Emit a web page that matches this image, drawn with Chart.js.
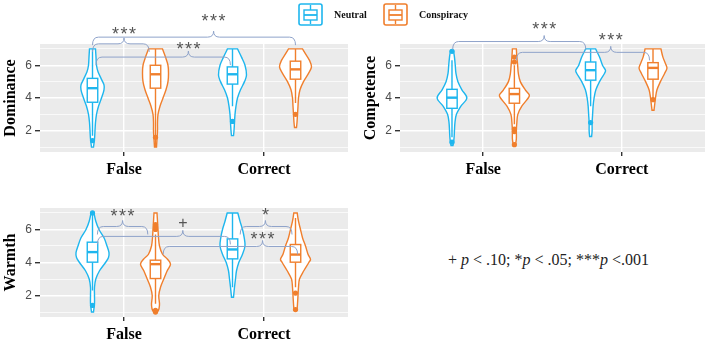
<!DOCTYPE html>
<html>
<head>
<meta charset="utf-8">
<script src="https://cdn.jsdelivr.net/npm/chart.js@4.4.0/dist/chart.umd.min.js"></script>
<style>
  body { margin: 0; background: #fff; }
  #wrap { position: relative; width: 709px; height: 345px; overflow: hidden; background: #fff; }
  canvas { position: absolute; }
  .key { position: absolute; top: 3px; height: 23px; display: flex; align-items: center; font: bold 10px 'Liberation Serif', serif; color: #111; }
  .key svg { margin-right: 11px; }
  #note { position: absolute; left: 448px; top: 251px; font: 16px 'Liberation Serif', serif; color: #222; white-space: nowrap; }
</style>
</head>
<body>
<div id="wrap">
  <canvas id="dominance" width="360" height="182" style="left:0;top:0"></canvas>
  <canvas id="competence" width="349" height="182" style="left:360px;top:0"></canvas>
  <canvas id="warmth" width="360" height="181" style="left:0;top:164px"></canvas>
  <div class="key" style="left:298px">
    <svg width="25" height="23"><rect x="1" y="1" width="23" height="21" rx="2" fill="#fff" stroke="#1eb6ee" stroke-width="1.6"/><line x1="12.5" y1="2" x2="12.5" y2="21" stroke="#1eb6ee" stroke-width="1.4"/><rect x="6" y="7" width="13" height="10" fill="#fff" stroke="#1eb6ee" stroke-width="1.4"/><line x1="6" y1="12" x2="19" y2="12" stroke="#1eb6ee" stroke-width="1.8"/></svg>
    <span>Neutral</span>
  </div>
  <div class="key" style="left:383px">
    <svg width="25" height="23"><rect x="1" y="1" width="23" height="21" rx="2" fill="#fff" stroke="#f07f2d" stroke-width="1.6"/><line x1="12.5" y1="2" x2="12.5" y2="21" stroke="#f07f2d" stroke-width="1.4"/><rect x="6" y="7" width="13" height="10" fill="#fff" stroke="#f07f2d" stroke-width="1.4"/><line x1="6" y1="12" x2="19" y2="12" stroke="#f07f2d" stroke-width="1.8"/></svg>
    <span>Conspiracy</span>
  </div>
  <div id="note">+ <i>p</i> &lt; .10; *<i>p</i> &lt; .05; ***<i>p</i> &lt;.001</div>
</div>
<script>
// categories / conditions
const groups = ['False', 'Correct'];
const conditions = ['Neutral', 'Conspiracy'];
const colors = ['#1eb6ee', '#f07f2d'];
// dodged positions: Neutral False, Conspiracy False, Neutral Correct, Conspiracy Correct
const groupPositions = [0.775, 1.225, 1.775, 2.225];

// violin outlines: [rating, half width]
const dominanceViolins = [
    [[1.0,1],[1.5,2],[2,2.5],[2.5,3],[3,4],[3.5,6],[4,9],[4.5,11.5],[4.8,11.5],[5.2,8.5],[5.6,5.5],[6,4],[6.5,3.5],[7,3]],
    [[1.0,1],[1.5,1.5],[2,2],[2.5,2],[3,2.5],[3.5,4.5],[4,7.5],[4.5,10.5],[5,12.5],[5.5,13],[6,12.5],[6.5,10],[7,7]],
    [[1.7,1],[2,1.5],[2.5,2],[3,2.5],[3.5,3.5],[4,5],[4.5,8],[5,12],[5.4,14],[6,12.5],[6.5,9],[7,5]],
    [[2.2,1],[2.5,1.5],[3,2],[3.5,2.5],[4,3],[4.5,4.5],[5,8],[5.5,13],[5.9,16],[6.3,14],[6.7,10],[7,7]]
];
// boxes: [lower whisker, q1, median, q3, upper whisker]
const dominanceBoxes = [[1.7,3.74,4.6,5.2,7.0],[1.0,4.6,5.45,6.0,7.0],[3.5,4.85,5.45,5.9,7.0],[3.7,5.15,5.75,6.25,7.0]];
const dominanceOutliers = [[1.4],[1.6],[2.57],[3.0]];
// significance braces: ends, peak and label height on the axis scales
const dominanceBrackets = [
    { x1: 0.775, x2: 2.225, xm: 1.64, y: 7.72, labelY: 8.93, label: '***' },
    { x1: 0.775, x2: 1.18, xm: 1.0, y: 7.31, labelY: 8.16, label: '***' },
    { x1: 0.80, x2: 1.76, xm: 1.46, y: 6.5, labelY: 7.21, label: '***' }
];

const competenceViolins = [
    [[1.1,1],[1.5,2],[2,2.5],[2.5,3],[3,4.5],[3.5,9],[4,15],[4.5,10],[5,6],[5.5,4],[6,3.3],[6.5,2.5],[6.9,1.5]],
    [[1.1,1],[1.5,2],[2,2],[2.5,2.5],[3,3.5],[3.5,7.5],[4,14],[4.2,15],[4.5,11],[5,6],[5.5,4],[6,3.3],[6.5,2.5],[7,2]],
    [[1.65,1],[2,1.5],[2.5,1.5],[3,2],[3.5,2.5],[4,3.5],[4.5,5.3],[5,9],[5.5,14],[5.7,15],[6,12],[6.5,9],[7,5]],
    [[3.25,1],[3.5,1.5],[4,2.5],[4.5,4],[5,7.5],[5.5,11.7],[5.8,14],[6,13.3],[6.5,10],[7,8]]
];
const competenceBoxes = [[1.6,3.37,4.02,4.53,6.3],[2.4,3.68,4.24,4.59,6.0],[3.5,5.09,5.7,6.2,7.0],[3.9,5.15,5.84,6.16,7.0]];
const competenceOutliers = [[6.85,1.3],[6.5,6.2,2.1,1.95,1.15],[2.5],[3.9]];
const competenceBrackets = [
    { x1: 0.78, x2: 1.74, xm: 1.44, y: 7.45, labelY: 8.48, label: '***' },
    { x1: 1.24, x2: 2.2, xm: 1.92, y: 6.79, labelY: 7.76, label: '***' }
];

const warmthViolins = [
    [[1.0,1],[1.5,2],[2,2],[2.5,2],[3,3.3],[3.5,7],[4,13],[4.3,16],[4.6,16.5],[5,14.5],[5.5,11.5],[6,6.5],[6.5,3.3],[7,1.5]],
    [[1.0,2],[1.2,3.5],[1.5,4],[2,3.3],[2.5,5],[3,8.3],[3.5,11.7],[3.9,15],[4.2,12],[4.5,7],[5,4],[5.5,3],[6,2.5],[6.5,2],[7,1.5]],
    [[1.9,1],[2.5,2],[3,3],[3.5,4],[4,6.3],[4.5,10],[5,12.5],[5.5,11.7],[6,10],[6.5,7.5],[7,5.3]],
    [[1.1,1.5],[1.5,2],[2,2.5],[2.5,3],[3,4],[3.5,8.3],[4,13.3],[4.2,15],[4.5,12.5],[5,10],[5.5,7],[6,5],[6.5,3],[7,1.7]]
];
const warmthBoxes = [[2.3,4.02,4.63,5.23,6.9],[1.5,3.03,3.9,4.14,5.7],[2.5,4.22,4.79,5.43,7.0],[2.5,4.02,4.48,5.09,6.7]];
const warmthOutliers = [[7.0,1.4],[6.3,6.15,6.0,1.1,1.0],[],[2.15,1.15]];
const warmthBrackets = [
    { x1: 0.81, x2: 1.17, xm: 0.99, y: 6.18, labelY: 7.03, label: '***' },
    { x1: 0.81, x2: 1.76, xm: 1.42, y: 5.58, labelY: 6.42, label: '+' },
    { x1: 1.83, x2: 2.2, xm: 2.01, y: 6.18, labelY: 7.09, label: '*' },
    { x1: 1.28, x2: 2.24, xm: 1.99, y: 4.97, labelY: 5.64, label: '***' }
];

const violinScale = 1 / 140;   // half widths were read in pixels at 140 px per category
const boxHalf = 0.0375;

function smoothThrough(ctx, pts) {
    for (let i = 0; i < pts.length - 1; i++) {
        const p0 = pts[Math.max(i - 1, 0)], p1 = pts[i], p2 = pts[i + 1], p3 = pts[Math.min(i + 2, pts.length - 1)];
        ctx.bezierCurveTo(p1.x + (p2.x - p0.x) / 6, p1.y + (p2.y - p0.y) / 6,
                          p2.x - (p3.x - p1.x) / 6, p2.y - (p3.y - p1.y) / 6, p2.x, p2.y);
    }
}

function disegnaViolino(ctx, xs, ys, pos, outline, color) {
    const right = outline.map(p => ({ x: xs.getPixelForValue(pos + p[1] * violinScale), y: ys.getPixelForValue(p[0]) }));
    const left = outline.map(p => ({ x: xs.getPixelForValue(pos - p[1] * violinScale), y: ys.getPixelForValue(p[0]) })).reverse();
    ctx.beginPath();
    ctx.moveTo(right[0].x, right[0].y);
    smoothThrough(ctx, right);
    ctx.lineTo(left[0].x, left[0].y);
    smoothThrough(ctx, left);
    ctx.closePath();
    ctx.fillStyle = '#fff';
    ctx.fill();
    ctx.strokeStyle = color;
    ctx.lineWidth = 1.4;
    ctx.stroke();
}

function disegnaBox(ctx, xs, ys, pos, b, color) {
    const xc = xs.getPixelForValue(pos);
    const xl = xs.getPixelForValue(pos - boxHalf), xr = xs.getPixelForValue(pos + boxHalf);
    const [lo, q1, med, q3, hi] = b.map(v => ys.getPixelForValue(v));
    ctx.strokeStyle = color;
    ctx.lineWidth = 1.4;
    ctx.beginPath();
    ctx.moveTo(xc, lo); ctx.lineTo(xc, q1);
    ctx.moveTo(xc, q3); ctx.lineTo(xc, hi);
    ctx.stroke();
    ctx.fillStyle = '#fff';
    ctx.fillRect(xl, q3, xr - xl, q1 - q3);
    ctx.strokeRect(xl, q3, xr - xl, q1 - q3);
    ctx.lineWidth = 2.4;
    ctx.beginPath();
    ctx.moveTo(xl, med); ctx.lineTo(xr, med);
    ctx.stroke();
}

function disegnaParentesi(ctx, xs, ys, b) {
    const x1 = xs.getPixelForValue(b.x1), x2 = xs.getPixelForValue(b.x2), xm = xs.getPixelForValue(b.xm);
    const y = ys.getPixelForValue(b.y);
    const r = 6, drop = 8, rise = 6;
    ctx.strokeStyle = '#8fa3ca';
    ctx.lineWidth = 1;
    ctx.beginPath();
    ctx.moveTo(x1, y + drop);
    ctx.quadraticCurveTo(x1, y, x1 + r, y);
    ctx.lineTo(xm - r, y);
    ctx.quadraticCurveTo(xm, y, xm, y - rise);
    ctx.quadraticCurveTo(xm, y, xm + r, y);
    ctx.lineTo(x2 - r, y);
    ctx.quadraticCurveTo(x2, y, x2, y + drop);
    ctx.stroke();

    // label, centred on labelY (glyph centre, alphabetic baseline)
    const ly = ys.getPixelForValue(b.labelY);
    ctx.fillStyle = '#555';
    ctx.textAlign = 'center';
    ctx.textBaseline = 'alphabetic';
    if (b.label === '+') {
        ctx.font = '16px "Liberation Sans"';
        ctx.letterSpacing = '0px';
        ctx.fillText(b.label, xm, ly + 5.5);
    } else {
        ctx.font = '18px "Liberation Sans"';
        ctx.letterSpacing = '1.5px';
        ctx.fillText(b.label, xm + 0.75, ly + 10);
    }
}

function pannelloPlugin(violins, boxes, brackets) {
    return {
        id: 'pannello',
        beforeDraw(chart) {
            const a = chart.chartArea;
            chart.ctx.save();
            chart.ctx.fillStyle = '#ebebeb';
            chart.ctx.fillRect(a.left, a.top, a.right - a.left, a.bottom - a.top);
            chart.ctx.restore();
        },
        beforeDatasetsDraw(chart) {
            const ctx = chart.ctx, xs = chart.scales.x, ys = chart.scales.y;
            ctx.save();
            violins.forEach((v, i) => disegnaViolino(ctx, xs, ys, groupPositions[i], v, colors[i % 2]));
            boxes.forEach((b, i) => disegnaBox(ctx, xs, ys, groupPositions[i], b, colors[i % 2]));
            ctx.restore();
        },
        afterDraw(chart) {
            const ctx = chart.ctx;
            ctx.save();
            brackets.forEach(b => disegnaParentesi(ctx, chart.scales.x, chart.scales.y, b));
            ctx.restore();
        }
    };
}

function creaPannello(id, title, violins, boxes, outliers, brackets, rightPad, axisHeight) {
    const datasets = conditions.map((c, k) => ({
        label: c,
        data: outliers.flatMap((vals, i) => i % 2 === k ? vals.map(v => ({ x: groupPositions[i], y: v })) : []),
        backgroundColor: colors[k],
        borderColor: colors[k],
        pointRadius: 2.6,
        pointBorderWidth: 0
    }));
    return new Chart(document.getElementById(id), {
        type: 'scatter',
        data: { datasets: datasets },
        options: {
            responsive: false,
            animation: false,
            layout: { padding: { top: 44, right: rightPad, left: 0, bottom: 0 } },
            plugins: { legend: { display: false }, tooltip: { enabled: false } },
            scales: {
                x: {
                    type: 'linear', min: 0.4, max: 2.6,
                    afterBuildTicks: s => { s.ticks = [{ value: 1 }, { value: 2 }]; },
                    afterFit: s => { s.height = axisHeight; },
                    border: { display: false },
                    grid: { color: '#ffffff', lineWidth: 1.4, tickColor: '#333', tickLength: 4 },
                    ticks: {
                        padding: 4, color: '#000',
                        font: { family: 'Liberation Serif', size: 16, weight: 'bold' },
                        callback: v => groups[v - 1]
                    }
                },
                y: {
                    min: 0.7, max: 7.3,
                    afterBuildTicks: s => { s.ticks = [1, 2, 3, 4, 5, 6, 7].map(v => ({ value: v })); },
                    afterFit: s => { s.width = 40; },
                    border: { display: false },
                    grid: {
                        color: '#ffffff',
                        lineWidth: c => c.tick && c.tick.value % 2 === 0 ? 1.4 : 0.7,
                        tickColor: c => c.tick && c.tick.value % 2 === 0 ? '#333' : 'rgba(0,0,0,0)',
                        tickLength: 5
                    },
                    ticks: {
                        padding: 3, color: '#4d4d4d',
                        font: { family: 'Liberation Sans', size: 12 },
                        callback: v => v % 2 === 0 ? v : ''
                    },
                    title: {
                        display: true, text: title, color: '#000',
                        font: { family: 'Liberation Serif', size: 16, weight: 'bold' },
                        padding: { top: 1, bottom: 0 }
                    }
                }
            }
        },
        plugins: [pannelloPlugin(violins, boxes, brackets)]
    });
}

creaPannello('dominance', 'Dominance', dominanceViolins, dominanceBoxes, dominanceOutliers, dominanceBrackets, 12, 30);
creaPannello('competence', 'Competence', competenceViolins, competenceBoxes, competenceOutliers, competenceBrackets, 1, 30);
creaPannello('warmth', 'Warmth', warmthViolins, warmthBoxes, warmthOutliers, warmthBrackets, 12, 28);
</script>
</body>
</html>
